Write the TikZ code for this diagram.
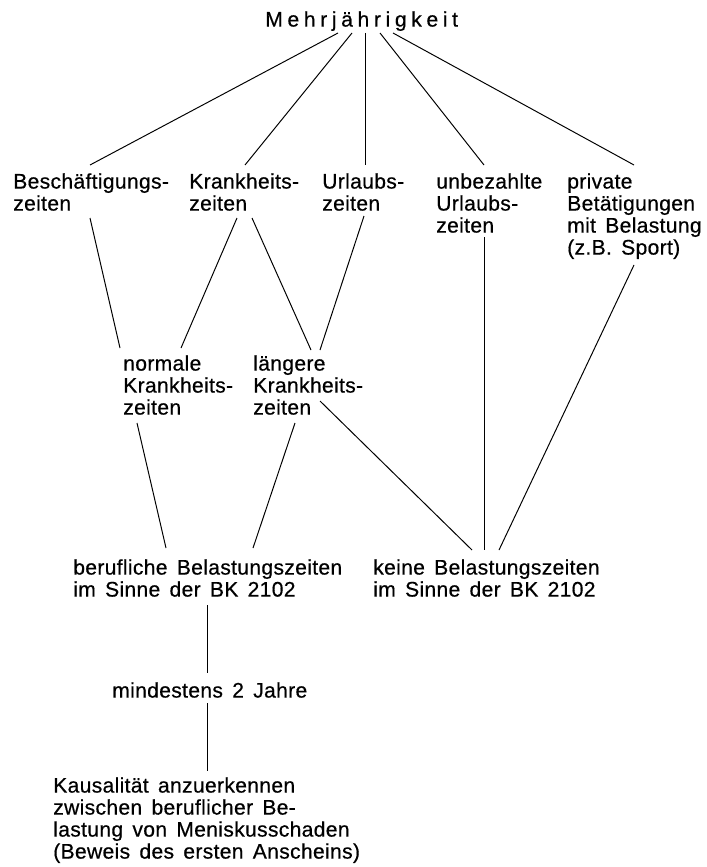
\documentclass[tikz,border=0pt]{standalone}
\usepackage{fontspec}
\setmainfont{Liberation Sans}[LetterSpace=1.5, WordSpace=1.5, FakeBold=0.5]
\usetikzlibrary{calc}

\tikzset{
  lbl/.style={anchor=north west, inner sep=0pt, align=left, font=\fontsize{15pt}{15.65pt}\selectfont},
  conn/.style={line width=0.7pt}
}

\begin{document}
\begin{tikzpicture}[x=0.025cm, y=-0.025cm]
\useasboundingbox (0,0) rectangle (706,867);
% Knoten
\node[lbl, font=\fontsize{15pt}{15.65pt}\selectfont\addfontfeature{LetterSpace=22}] (mehr) at (265,11) {Mehrjährigkeit};
\node[lbl] (besch) at (13,173) {Beschäftigungs-\\zeiten};
\node[lbl] (krank) at (189,173) {Krankheits-\\zeiten};
\node[lbl] (urlaub) at (322,173) {Urlaubs-\\zeiten};
\node[lbl] (unbez) at (436,173) {unbezahlte\\Urlaubs-\\zeiten};
\node[lbl] (privat) at (567,173) {private\\Betätigungen\\mit Belastung\\(z.B. Sport)};
\node[lbl] (normal) at (123,355) {normale\\Krankheits-\\zeiten};
\node[lbl] (laenger) at (253,355) {längere\\Krankheits-\\zeiten};
\node[lbl] (beruf) at (73,559) {berufliche Belastungszeiten\\im Sinne der BK 2102};
\node[lbl] (keine) at (373,559) {keine Belastungszeiten\\im Sinne der BK 2102};
\node[lbl] (mind) at (112,682) {mindestens 2 Jahre};
\node[lbl] (kaus) at (53,777) {Kausalität anzuerkennen\\zwischen beruflicher Be-\\lastung von Meniskusschaden\\(Beweis des ersten Anscheins)};
% Verbindungen oben
\draw[conn] ($(mehr.north west)+(73,22)$) -- ($(besch.north west)+(77,-8)$);
\draw[conn] ($(mehr.north west)+(87,22)$) -- ($(krank.north west)+(56,-8)$);
\draw[conn] ($(mehr.north west)+(100,22)$) -- ($(urlaub.north west)+(43,-8)$);
\draw[conn] ($(mehr.north west)+(115,22)$) -- ($(unbez.north west)+(48,-8)$);
\draw[conn] ($(mehr.north west)+(128,22)$) -- ($(privat.north west)+(67,-8)$);
% Verbindungen Mitte
\draw[conn] ($(besch.north west)+(77,45)$) -- ($(normal.north west)+(-3,-7)$);
\draw[conn] ($(krank.north west)+(48,45)$) -- ($(normal.north west)+(58,-7)$);
\draw[conn] ($(krank.north west)+(63,45)$) -- ($(laenger.north west)+(58,-5)$);
\draw[conn] ($(urlaub.north west)+(42,43)$) -- ($(laenger.north west)+(67,-5)$);
\draw[conn] ($(unbez.north west)+(48,64)$) -- ($(keine.north west)+(111,-9)$);
\draw[conn] ($(privat.north west)+(67,92)$) -- ($(keine.north west)+(126,-9)$);
\draw[conn] ($(normal.north west)+(14,68)$) -- ($(beruf.north west)+(93,-11)$);
\draw[conn] ($(laenger.north west)+(42,68)$) -- ($(beruf.north west)+(180,-11)$);
\draw[conn] ($(laenger.north west)+(67,46)$) -- ($(keine.north west)+(99,-9)$);
% Verbindungen unten
\draw[conn] ($(beruf.north west)+(134,46)$) -- ($(mind.north west)+(95,-9)$);
\draw[conn] ($(mind.north west)+(95,21)$) -- ($(kaus.north west)+(154,-6)$);
\end{tikzpicture}
\end{document}
